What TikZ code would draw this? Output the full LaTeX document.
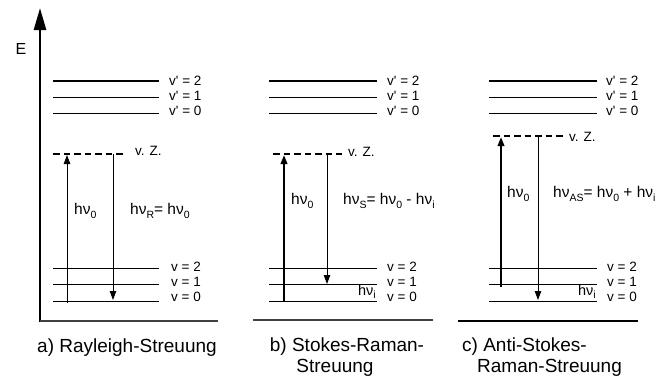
\documentclass[tikz,border=0pt]{standalone}
\usepackage{fontspec}
\setmainfont{Liberation Sans}
\usetikzlibrary{arrows.meta}
\newcommand\lowidx[1]{\raisebox{-0.45ex}{\fontsize{10.5}{11}\selectfont #1}}
\newcommand\vq{v\textquotesingle}
\begin{document}
\begin{tikzpicture}[x=1pt,y=-1pt,
  lvl/.style={line width=0.9pt},
  lvlthick/.style={line width=2pt},
  vz/.style={line width=2.4pt, dash pattern=on 6.5pt off 4pt},
  lab/.style={anchor=west, inner sep=0pt, font=\fontsize{13.5}{13.5}\selectfont},
  eq/.style={anchor=west, inner sep=0pt, font=\fontsize{15.5}{15.5}\selectfont},
  captxt/.style={inner sep=0pt, font=\fontsize{19}{19}\selectfont},
  tipstyle/.style={-{Triangle[length=9pt,width=6.5pt]}},
  thinarr/.style={tipstyle, line width=0.9pt},
  thickarr/.style={tipstyle, line width=2pt},
  baseln/.style={line width=1.2pt, black!75}]
\useasboundingbox (0,0) rectangle (662,381);
% axis
\coordinate (ax0) at (40,322);
\coordinate (axtop) at (40,8);
\draw[line width=2.6pt, -{Triangle[length=22pt,width=12pt]}] (ax0) -- (axtop);
\node[inner sep=0pt, font=\fontsize{16}{16}\selectfont] (E) at (21,49) {E};

% ---------- panel a ----------
\coordinate (ba1) at (40,321); \coordinate (ba2) at (218,321);
\draw[baseln] (ba1) -- (ba2);
\draw[lvlthick] (53,81) -- (159,81);
\draw[lvl] (53,97) -- (159,97);
\draw[lvl] (53,113) -- (159,113);
\draw[vz] (53,154) -- (125,154);
\draw[lvl] (53,268) -- (159,268);
\draw[lvl] (53,284) -- (159,284);
\draw[lvl] (53,301) -- (159,301);
\node[lab] (a1) at (169,81) {\vq{} = 2};
\node[lab] (a2) at (169,96) {\vq{} = 1};
\node[lab] (a3) at (169,111) {\vq{} = 0};
\node[lab] (a4) at (171,267) {v = 2};
\node[lab] (a5) at (171,282) {v = 1};
\node[lab] (a6) at (171,297) {v = 0};
\node[lab] (avz) at (135,151) {v. Z.};
\coordinate (au1) at (67,303); \coordinate (au2) at (67,155);
\draw[thinarr] (au1) -- (au2);
\coordinate (ad1) at (113,154); \coordinate (ad2) at (113,300);
\draw[thinarr] (ad1) -- (ad2);
\node[eq] (ah0) at (74,211) {hν\lowidx{0}};
\node[eq] (ahR) at (130,211) {hν\lowidx{R}= hν\lowidx{0}};
\node[captxt] (capa) at (127,348) {a) Rayleigh-Streuung};

% ---------- panel b ----------
\coordinate (bb1) at (253,320); \coordinate (bb2) at (433,320);
\draw[baseln] (bb1) -- (bb2);
\draw[lvlthick] (269,81) -- (377,81);
\draw[lvl] (269,97) -- (377,97);
\draw[lvl] (269,113) -- (377,113);
\draw[vz] (273,154) -- (342,154);
\draw[lvl] (269,268) -- (377,268);
\draw[lvl] (269,284) -- (377,284);
\draw[lvl] (269,301) -- (377,301);
\node[lab] (b1) at (387,81) {\vq{} = 2};
\node[lab] (b2) at (387,96) {\vq{} = 1};
\node[lab] (b3) at (387,111) {\vq{} = 0};
\node[lab] (b4) at (387,267) {v = 2};
\node[lab] (b5) at (387,282) {v = 1};
\node[lab] (b6) at (387,297) {v = 0};
\node[lab] (bvz) at (348,152) {v. Z.};
\coordinate (bu1) at (284,302); \coordinate (bu2) at (284,155);
\draw[thickarr] (bu1) -- (bu2);
\coordinate (bd1) at (327,154); \coordinate (bd2) at (327,284);
\draw[thinarr] (bd1) -- (bd2);
\node[eq] (bh0) at (291,201) {hν\lowidx{0}};
\node[eq] (bhS) at (343,201) {hν\lowidx{S}= hν\lowidx{0} - hν\lowidx{i}};
\node[lab, anchor=south east, font=\fontsize{14.5}{14.5}\selectfont] (bhi) at (376,299) {hν\lowidx{i}};
\node[captxt] (capb1) at (347,347) {b) Stokes-Raman-};
\node[captxt] (capb2) at (335,368) {Streuung};

% ---------- panel c ----------
\coordinate (cb1) at (458,321); \coordinate (cb2) at (638,321);
\draw[line width=2pt] (cb1) -- (cb2);
\draw[lvlthick] (489,81) -- (597,81);
\draw[lvl] (489,97) -- (597,97);
\draw[lvl] (489,113) -- (597,113);
\draw[vz] (493,136) -- (563,136);
\draw[lvl] (489,268) -- (597,268);
\draw[lvl] (489,284) -- (597,284);
\draw[lvl] (489,301) -- (597,301);
\node[lab] (c1) at (606,81) {\vq{} = 2};
\node[lab] (c2) at (606,96) {\vq{} = 1};
\node[lab] (c3) at (606,111) {\vq{} = 0};
\node[lab] (c4) at (607,267) {v = 2};
\node[lab] (c5) at (607,282) {v = 1};
\node[lab] (c6) at (607,297) {v = 0};
\node[lab] (cvz) at (569,137) {v. Z.};
\coordinate (cu1) at (501,287); \coordinate (cu2) at (501,137);
\draw[thickarr] (cu1) -- (cu2);
\coordinate (cd1) at (538,136); \coordinate (cd2) at (538,300);
\draw[thinarr] (cd1) -- (cd2);
\node[eq] (ch0) at (507,194) {hν\lowidx{0}};
\node[eq] (chAS) at (553,194) {hν\lowidx{AS}= hν\lowidx{0} + hν\lowidx{i}};
\node[lab, anchor=south east, font=\fontsize{14.5}{14.5}\selectfont] (chi) at (596,299) {hν\lowidx{i}};
\node[captxt, anchor=west] (capc1) at (462,347) {c) Anti-Stokes-};
\node[captxt, anchor=west] (capc2) at (477,368) {Raman-Streuung};
\end{tikzpicture}
\end{document}
